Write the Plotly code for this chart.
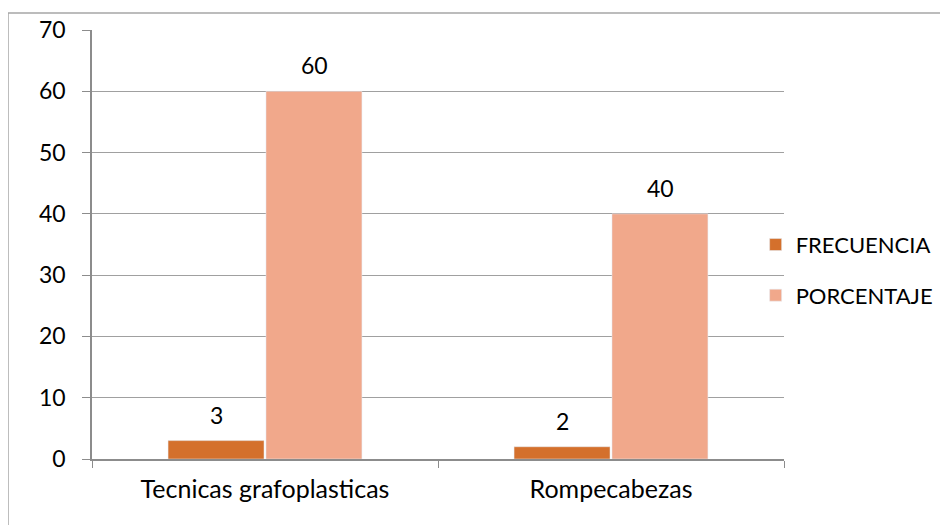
import plotly.graph_objects as go

# Datos del grafico
categorias = ["Tecnicas grafoplasticas", "Rompecabezas"]
frecuencia = [3, 2]
porcentaje = [60, 40]
ticks_y = [0, 10, 20, 30, 40, 50, 60, 70]

FUENTE = "Lato, 'Open Sans', sans-serif"
GRIS = "#8c8c8c"

fig = go.Figure()
fig.add_trace(go.Bar(x=categorias, y=frecuencia, name="FRECUENCIA",
                     marker=dict(color="#D4702C"), legendgroup="a"))
fig.add_trace(go.Bar(x=categorias, y=porcentaje, name="PORCENTAJE",
                     marker=dict(color="#F1A88B"), legendgroup="b"))

# Etiquetas de datos encima de cada barra
for serie, desplaz in [(frecuencia, -49), (porcentaje, 49)]:
    for cat, val in zip(categorias, serie):
        fig.add_annotation(x=cat, y=val, xref="x", yref="y", text=str(val),
                           showarrow=False, xshift=desplaz, yshift=10,
                           yanchor="bottom", font=dict(size=23, color="black", family=FUENTE))

# Borde exterior del grafico
fig.add_shape(type="rect", xref="paper", yref="paper",
              x0=-0.1214, x1=1.26, y0=-0.2, y1=1.0396,
              line=dict(color="#a6a6a6", width=1.5))

# la pagina tiene 8px de margen en el body
fig.update_layout(
    width=948, height=525,
    margin=dict(l=84, r=172, t=22, b=74),
    paper_bgcolor="white", plot_bgcolor="white",
    font=dict(family=FUENTE, size=23, color="black"),
    barmode="group", bargap=0.434, bargroupgap=0.02,
    showlegend=True,
    legend=dict(x=0.959, y=0.44, xanchor="left", yanchor="middle",
                tracegroupgap=19, font=dict(size=22), bgcolor="rgba(0,0,0,0)"),
)
fig.update_xaxes(showline=True, linecolor=GRIS, linewidth=1.5,
                 ticks="outside", tickson="boundaries", ticklen=7, tickcolor=GRIS,
                 showgrid=False, ticklabelstandoff=7, tickfont=dict(size=25),
                 automargin=False)
fig.update_yaxes(range=[0, 70], tickvals=ticks_y, showline=True, linecolor=GRIS, linewidth=1.5,
                 ticks="outside", ticklen=8, tickcolor=GRIS,
                 showgrid=True, gridcolor="#a0a0a0", gridwidth=1,
                 zeroline=False, ticklabelstandoff=12, automargin=False)

fig.write_html("out.html")
